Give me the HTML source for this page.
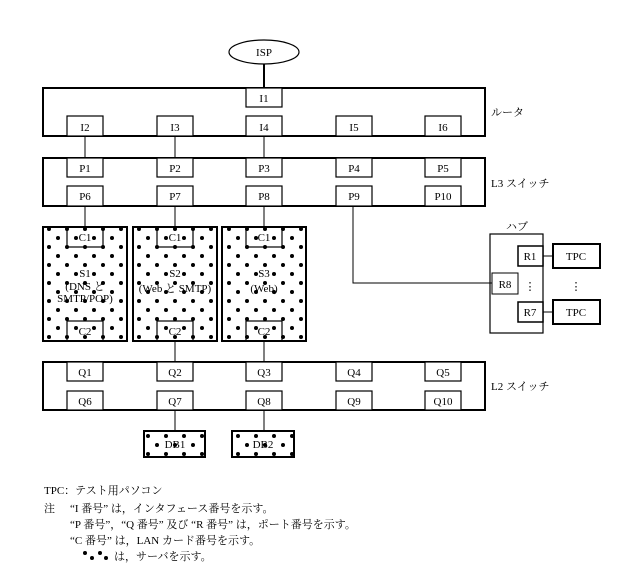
<!DOCTYPE html>
<html><head><meta charset="utf-8"><style>
html,body{margin:0;padding:0;background:#fff;width:624px;height:572px;overflow:hidden}
svg text{font-family:"Liberation Serif","Noto Serif CJK SC",serif;fill:#000}
</style></head><body>
<svg width="624" height="572" viewBox="0 0 624 572" xmlns="http://www.w3.org/2000/svg">
<defs>
<pattern id="dots" width="18" height="18" patternUnits="userSpaceOnUse">
<rect width="18" height="18" fill="#fff"/>
<circle cx="4" cy="4" r="2" fill="#000"/>
<circle cx="13" cy="13" r="2" fill="#000"/>
</pattern>
</defs>
<g stroke="#000" fill="none">
<ellipse cx="264" cy="52" rx="35" ry="12" stroke-width="1.2" fill="#fff"/>
<line x1="264" y1="64" x2="264" y2="88" stroke-width="2"/>
<rect x="43" y="88" width="442" height="48" stroke-width="2"/>
<rect x="43" y="158" width="442" height="48" stroke-width="2"/>
<rect x="43" y="362" width="442" height="48" stroke-width="2"/>
<g stroke-width="1">
<line x1="85" y1="136" x2="85" y2="158"/><line x1="175" y1="136" x2="175" y2="158"/><line x1="264" y1="136" x2="264" y2="158"/>
<line x1="85" y1="206" x2="85" y2="227"/><line x1="175" y1="206" x2="175" y2="227"/><line x1="264" y1="206" x2="264" y2="227"/>
<line x1="175" y1="341" x2="175" y2="362"/><line x1="264" y1="341" x2="264" y2="362"/>
<line x1="175" y1="410" x2="175" y2="431"/><line x1="264" y1="410" x2="264" y2="431"/>
<polyline points="353,206 353,283 492,283"/>
<line x1="543" y1="256" x2="553" y2="256"/><line x1="543" y1="312" x2="553" y2="312"/>
</g>
<rect x="43" y="227" width="84" height="114" stroke-width="2" fill="url(#dots)"/>
<rect x="133" y="227" width="84" height="114" stroke-width="2" fill="url(#dots)"/>
<rect x="222" y="227" width="84" height="114" stroke-width="2" fill="url(#dots)"/>
<rect x="144" y="431" width="61" height="26" stroke-width="2" fill="url(#dots)"/>
<rect x="232" y="431" width="62" height="26" stroke-width="2" fill="url(#dots)"/>
<g stroke-width="1.2">
<rect x="67" y="227" width="36" height="20"/><rect x="67" y="321" width="36" height="20"/>
<rect x="157" y="227" width="36" height="20"/><rect x="157" y="321" width="36" height="20"/>
<rect x="246" y="227" width="36" height="20"/><rect x="246" y="321" width="36" height="20"/>
</g>
<g stroke-width="1.2" fill="#fff">
<rect x="246" y="88" width="36" height="19"/>
<rect x="67" y="116" width="36" height="20"/><rect x="157" y="116" width="36" height="20"/><rect x="246" y="116" width="36" height="20"/><rect x="336" y="116" width="36" height="20"/><rect x="425" y="116" width="36" height="20"/>
<rect x="67" y="158" width="36" height="19"/><rect x="157" y="158" width="36" height="19"/><rect x="246" y="158" width="36" height="19"/><rect x="336" y="158" width="36" height="19"/><rect x="425" y="158" width="36" height="19"/>
<rect x="67" y="186" width="36" height="20"/><rect x="157" y="186" width="36" height="20"/><rect x="246" y="186" width="36" height="20"/><rect x="336" y="186" width="36" height="20"/><rect x="425" y="186" width="36" height="20"/>
<rect x="67" y="362" width="36" height="19"/><rect x="157" y="362" width="36" height="19"/><rect x="246" y="362" width="36" height="19"/><rect x="336" y="362" width="36" height="19"/><rect x="425" y="362" width="36" height="19"/>
<rect x="67" y="391" width="36" height="19"/><rect x="157" y="391" width="36" height="19"/><rect x="246" y="391" width="36" height="19"/><rect x="336" y="391" width="36" height="19"/><rect x="425" y="391" width="36" height="19"/>
</g>
<rect x="490" y="234" width="53" height="99" stroke-width="1.2"/>
<rect x="518" y="246" width="25" height="20" stroke-width="1.5" fill="#fff"/>
<rect x="518" y="302" width="25" height="20" stroke-width="1.5" fill="#fff"/>
<rect x="492" y="273" width="26" height="21" stroke-width="1" fill="#fff"/>
<rect x="553" y="244" width="47" height="24" stroke-width="2" fill="#fff"/>
<rect x="553" y="300" width="47" height="24" stroke-width="2" fill="#fff"/>
</g>
<g font-size="11" text-anchor="middle">
<text x="264" y="56">ISP</text>
<text x="264" y="102">I1</text>
<text x="85" y="131">I2</text><text x="175" y="131">I3</text><text x="264" y="131">I4</text><text x="354" y="131">I5</text><text x="443" y="131">I6</text>
<text x="85" y="172">P1</text><text x="175" y="172">P2</text><text x="264" y="172">P3</text><text x="354" y="172">P4</text><text x="443" y="172">P5</text>
<text x="85" y="200">P6</text><text x="175" y="200">P7</text><text x="264" y="200">P8</text><text x="354" y="200">P9</text><text x="443" y="200">P10</text>
<text x="85" y="376">Q1</text><text x="175" y="376">Q2</text><text x="264" y="376">Q3</text><text x="354" y="376">Q4</text><text x="443" y="376">Q5</text>
<text x="85" y="405">Q6</text><text x="175" y="405">Q7</text><text x="264" y="405">Q8</text><text x="354" y="405">Q9</text><text x="443" y="405">Q10</text>
<text x="85" y="241">C1</text><text x="85" y="335">C2</text>
<text x="175" y="241">C1</text><text x="175" y="335">C2</text>
<text x="264" y="241">C1</text><text x="264" y="335">C2</text>
<text x="85" y="277">S1</text><text x="85" y="290">(DNS と</text><text x="85" y="302">SMTP/POP)</text>
<text x="175" y="277">S2</text><text x="175" y="292">(Web と SMTP)</text>
<text x="264" y="277">S3</text><text x="264" y="292">(Web)</text>
<text x="175" y="448">DB1</text><text x="263" y="448">DB2</text>
<text x="530" y="260">R1</text><text x="530" y="316">R7</text><text x="505" y="288">R8</text>
<text x="576" y="260">TPC</text><text x="576" y="316">TPC</text>
<text x="530" y="290">⋮</text><text x="576" y="290">⋮</text>
</g>
<g font-size="11">
<text x="491" y="116">ルータ</text>
<text x="491" y="187">L3 スイッチ</text>
<text x="491" y="390">L2 スイッチ</text>
<text x="506" y="230">ハブ</text>
<text x="44" y="494">TPC：テスト用パソコン</text>
<text x="44" y="512">注</text>
<text x="70" y="512">“I 番号” は，インタフェース番号を示す。</text>
<text x="70" y="528">“P 番号”，“Q 番号” 及び “R 番号” は，ポート番号を示す。</text>
<text x="70" y="544">“C 番号” は，LAN カード番号を示す。</text>
<text x="114" y="560">は，サーバを示す。</text>
</g>
<g fill="#000"><circle cx="85" cy="553" r="2"/><circle cx="92" cy="558" r="2"/><circle cx="100" cy="553" r="2"/><circle cx="106" cy="558" r="2"/></g>
</svg>
</body></html>
